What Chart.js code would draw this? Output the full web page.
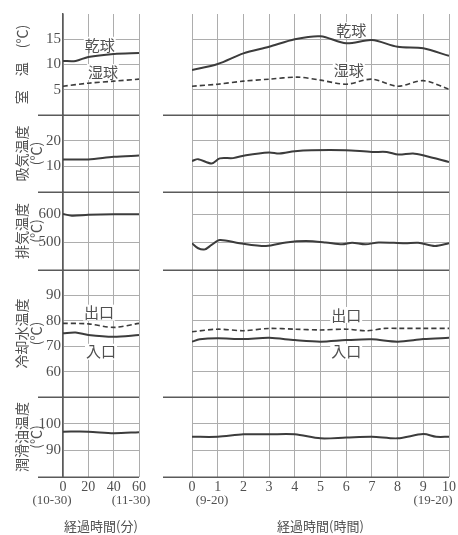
<!DOCTYPE html>
<html>
<head>
<meta charset="utf-8">
<script src="https://cdn.jsdelivr.net/npm/chart.js@4.4.1/dist/chart.umd.min.js"></script>
<style>
  html, body { margin: 0; padding: 0; background: #fff; }
  #wrap { position: relative; width: 458px; height: 535px; overflow: hidden; background: #fff; }
  canvas { position: absolute; top: 0; }
  #byMinute { left: 0; }
  #byHour { left: 150px; }
</style>
</head>
<body>
<div id="wrap">
  <canvas id="byMinute" width="165" height="535"></canvas>
  <canvas id="byHour" width="308" height="535"></canvas>
</div>
<script>
// ---- panels (top to bottom) ----
const panelIds    = ['room', 'intake', 'exhaust', 'cooling', 'lube'];
const panelTitles = [['室　温　(℃)'], ['吸気温度', '(℃)'], ['排気温度', '(℃)'], ['冷却水温度', '(℃)'], ['潤滑油温度', '(℃)']];
const panelMin    = [0, 0, 400, 50, 80];
const panelMax    = [20, 30, 680, 100, 110];
const panelTicks  = [[5, 10, 15], [10, 20], [500, 600], [60, 70, 80, 90], [90, 100]];

// ---- time axes ----
const minuteTicks = [0, 20, 40, 60];
const hourTicks   = [0, 1, 2, 3, 4, 5, 6, 7, 8, 9, 10];
const minuteEnds  = ['(10-30)', '(11-30)'];
const hourEnds    = ['(9-20)', '(19-20)'];

// ---- first hour, by minute ----
const dryMinX     = [0, 10, 20, 40, 60];
const dryMinY     = [10.7, 10.7, 11.5, 12.1, 12.3];
const wetMinX     = [0, 20, 40, 60];
const wetMinY     = [5.7, 6.3, 6.7, 7.1];
const intakeMinX  = [0, 20, 40, 60];
const intakeMinY  = [12.7, 12.7, 13.7, 14.2];
const exhaustMinX = [0, 7, 20, 40, 60];
const exhaustMinY = [601, 595, 598, 600, 600];
const inletMinX   = [0, 10, 20, 40, 60];
const inletMinY   = [75.1, 75.4, 74.4, 73.7, 74.4];
const outletMinX  = [0, 20, 40, 60];
const outletMinY  = [79.0, 78.8, 77.4, 79.0];
const lubeMinX    = [0, 20, 40, 60];
const lubeMinY    = [97.0, 97.0, 96.4, 96.8];

// ---- ten hours, by hour ----
const dryHourX     = [0, 1, 2, 3, 4, 5, 6, 7, 8, 9, 10];
const dryHourY     = [8.9, 10.1, 12.2, 13.5, 15.0, 15.6, 14.2, 14.85, 13.5, 13.2, 11.7];
const wetHourX     = [0, 1, 2, 3, 4.1, 5, 6, 7, 8, 9, 10];
const wetHourY     = [5.7, 6.1, 6.7, 7.1, 7.5, 6.9, 6.1, 7.1, 5.7, 6.8, 5.1];
const intakeHourX  = [0, 0.24, 0.76, 1.08, 1.6, 2.1, 3.0, 3.4, 4.0, 4.65, 5.97, 7.0, 7.58, 8.03, 8.6, 9.06, 10];
const intakeHourY  = [12.1, 12.8, 11.1, 13.1, 13.2, 14.35, 15.4, 15.0, 15.9, 16.3, 16.3, 15.6, 15.6, 14.6, 15.0, 14.1, 11.7];
const exhaustHourX = [0, 0.24, 0.5, 0.76, 1.08, 1.85, 2.88, 3.66, 4.43, 5.2, 5.84, 6.23, 6.75, 7.26, 8.29, 8.8, 9.45, 10];
const exhaustHourY = [496, 478, 474, 490, 508, 496, 486, 499, 504, 499, 492, 498, 492, 499, 496, 498, 486, 496];
const inletHourX   = [0, 0.3, 1, 2, 3, 4, 5, 6, 7, 8, 9, 10];
const inletHourY   = [71.8, 72.7, 73.1, 72.8, 73.3, 72.4, 71.8, 72.4, 72.7, 71.8, 72.8, 73.3];
const outletHourX  = [0, 1, 2, 3, 4, 5, 6, 6.8, 7.5, 8, 9, 10];
const outletHourY  = [75.7, 76.7, 76.1, 77.0, 76.7, 76.4, 76.7, 76.1, 77.0, 77.0, 77.0, 77.0];
const lubeHourX    = [0, 1, 2, 3, 4, 5, 6, 7, 8, 9, 9.5, 10];
const lubeHourY    = [95.1, 95.1, 96.0, 96.0, 96.0, 94.5, 94.8, 95.1, 94.5, 96.1, 95.1, 95.1];

// ---- curve names written inside the panels ----
const noteText     = ['乾球', '湿球', '出口', '入口'];
const notePanel    = ['room', 'room', 'cooling', 'cooling'];
const noteMinuteX  = [29, 31.5, 28.5, 30];
const noteMinuteY  = [13.9, 8.5, 83.2, 67.8];
const noteHourX    = [6.2, 6.1, 6.0, 6.0];
const noteHourY    = [16.8, 8.9, 82.3, 67.8];

// ---- look ----
const SERIF = "'Liberation Serif', 'Noto Sans CJK JP', serif";
const CJK = "'Noto Sans CJK JP', sans-serif";
const INK = '#3c3c3c';
const TEXT = '#505050';
const GRID = '#adadad';
const RULE = '#5a5a5a';
const panelWeight = [101, 77, 78, 127, 80];

Chart.defaults.font.family = SERIF;
Chart.defaults.color = TEXT;

const points = (xs, ys) => xs.map((x, i) => ({ x, y: ys[i] }));

function line(xs, ys, panel, dashed) {
  return {
    data: points(xs, ys),
    yAxisID: panel,
    borderColor: INK,
    borderWidth: dashed ? 1.6 : 2,
    borderDash: dashed ? [5, 3] : [],
    pointRadius: 0,
    tension: 0.3,
    fill: false
  };
}

// stacked left axes are laid out last-defined on top, so add them bottom-up
function panelScales(withLabels, axisWidth) {
  const scales = {};
  panelIds.map((id, i) => i).reverse().forEach(i => {
    scales[panelIds[i]] = {
      type: 'linear',
      position: 'left',
      stack: 'panels',
      stackWeight: panelWeight[i],
      min: panelMin[i],
      max: panelMax[i],
      afterBuildTicks: s => { s.ticks = panelTicks[i].map(v => ({ value: v })); },
      afterFit: s => { s.width = axisWidth; },
      grid: { color: GRID, lineWidth: 1, drawTicks: false },
      border: { display: withLabels, color: RULE, width: 1.5 },
      ticks: { display: withLabels, padding: 2, color: TEXT, font: { family: SERIF, size: 15 } },
      title: {
        display: withLabels,
        text: panelTitles[i],
        color: TEXT,
        padding: { top: 15, bottom: 0 },
        font: { family: CJK, size: 14, lineHeight: 1 }
      }
    };
  });
  return scales;
}

function timeScale(min, max, tickValues, title) {
  return {
    type: 'linear',
    position: 'bottom',
    min, max,
    afterBuildTicks: s => { s.ticks = tickValues.map(v => ({ value: v })); },
    afterFit: s => { s.height = 58; },
    grid: { color: GRID, lineWidth: 1, drawTicks: false },
    border: { display: false },
    ticks: { padding: 2, color: TEXT, font: { family: SERIF, size: 14 } },
    title: {
      display: true,
      text: title,
      color: TEXT,
      padding: { top: 0, bottom: 1 },
      font: { family: CJK, size: 13, lineHeight: 1.2 }
    }
  };
}

// horizontal rules under every panel, running out past the left edge
const panelRules = {
  id: 'panelRules',
  afterDraw(chart, args, opts) {
    const { ctx, chartArea } = chart;
    ctx.save();
    ctx.strokeStyle = RULE;
    ctx.lineWidth = 1.5;
    panelIds.forEach(id => {
      const y = Math.round(chart.scales[id].bottom) + 0.25;
      ctx.beginPath();
      ctx.moveTo(opts.from, y);
      ctx.lineTo(chartArea.right, y);
      ctx.stroke();
    });
    ctx.restore();
  }
};

// curve names
const curveNotes = {
  id: 'curveNotes',
  afterDatasetsDraw(chart, args, opts) {
    const { ctx } = chart;
    const x = chart.scales.x;
    ctx.save();
    ctx.font = '15px ' + CJK;
    ctx.textAlign = 'center';
    ctx.textBaseline = 'middle';
    noteText.forEach((t, i) => {
      const px = x.getPixelForValue(opts.xs[i]);
      const py = chart.scales[notePanel[i]].getPixelForValue(opts.ys[i]);
      const w = ctx.measureText(t).width;
      ctx.fillStyle = '#fff';
      ctx.fillRect(px - w / 2 - 1, py - 8, w + 2, 16);
      ctx.fillStyle = TEXT;
      ctx.fillText(t, px, py);
    });
    ctx.restore();
  }
};

// clock times under the first and last ticks
const clockTimes = {
  id: 'clockTimes',
  afterDraw(chart, args, opts) {
    const { ctx } = chart;
    const x = chart.scales.x;
    ctx.save();
    ctx.font = '13px ' + SERIF;
    ctx.fillStyle = TEXT;
    ctx.textAlign = 'center';
    ctx.textBaseline = 'middle';
    opts.labels.forEach((t, i) => {
      ctx.fillText(t, x.getPixelForValue(opts.values[i]) + opts.shift[i], x.bottom - 34);
    });
    ctx.restore();
  }
};

const common = {
  responsive: false,
  animation: false,
  devicePixelRatio: 1,
  events: [],
  plugins: { legend: { display: false }, tooltip: { enabled: false } }
};

// first hour (minutes)
new Chart(document.getElementById('byMinute'), {
  type: 'line',
  data: {
    datasets: [
      line(dryMinX, dryMinY, 'room', false),
      line(wetMinX, wetMinY, 'room', true),
      line(intakeMinX, intakeMinY, 'intake', false),
      line(exhaustMinX, exhaustMinY, 'exhaust', false),
      line(outletMinX, outletMinY, 'cooling', true),
      line(inletMinX, inletMinY, 'cooling', false),
      line(lubeMinX, lubeMinY, 'lube', false)
    ]
  },
  options: {
    ...common,
    layout: { autoPadding: false, padding: { top: 14, right: 26, bottom: 0, left: 0 } },
    scales: { x: timeScale(0, 60, minuteTicks, '経過時間(分)'), ...panelScales(true, 63) },
    plugins: {
      ...common.plugins,
      panelRules: { from: 38 },
      curveNotes: { xs: noteMinuteX, ys: noteMinuteY },
      clockTimes: { labels: minuteEnds, values: [0, 60], shift: [-11, -8] }
    }
  },
  plugins: [panelRules, curveNotes, clockTimes]
});

// ten hours
new Chart(document.getElementById('byHour'), {
  type: 'line',
  data: {
    datasets: [
      line(dryHourX, dryHourY, 'room', false),
      line(wetHourX, wetHourY, 'room', true),
      line(intakeHourX, intakeHourY, 'intake', false),
      line(exhaustHourX, exhaustHourY, 'exhaust', false),
      line(outletHourX, outletHourY, 'cooling', true),
      line(inletHourX, inletHourY, 'cooling', false),
      line(lubeHourX, lubeHourY, 'lube', false)
    ]
  },
  options: {
    ...common,
    layout: { autoPadding: false, padding: { top: 14, right: 7, bottom: 0, left: 42 } },
    scales: { x: timeScale(0, 10, hourTicks, '経過時間(時間)'), ...panelScales(false, 0) },
    plugins: {
      ...common.plugins,
      panelRules: { from: 13 },
      curveNotes: { xs: noteHourX, ys: noteHourY },
      clockTimes: { labels: hourEnds, values: [0, 10], shift: [20, -16] }
    }
  },
  plugins: [panelRules, curveNotes, clockTimes]
});
</script>
</body>
</html>
